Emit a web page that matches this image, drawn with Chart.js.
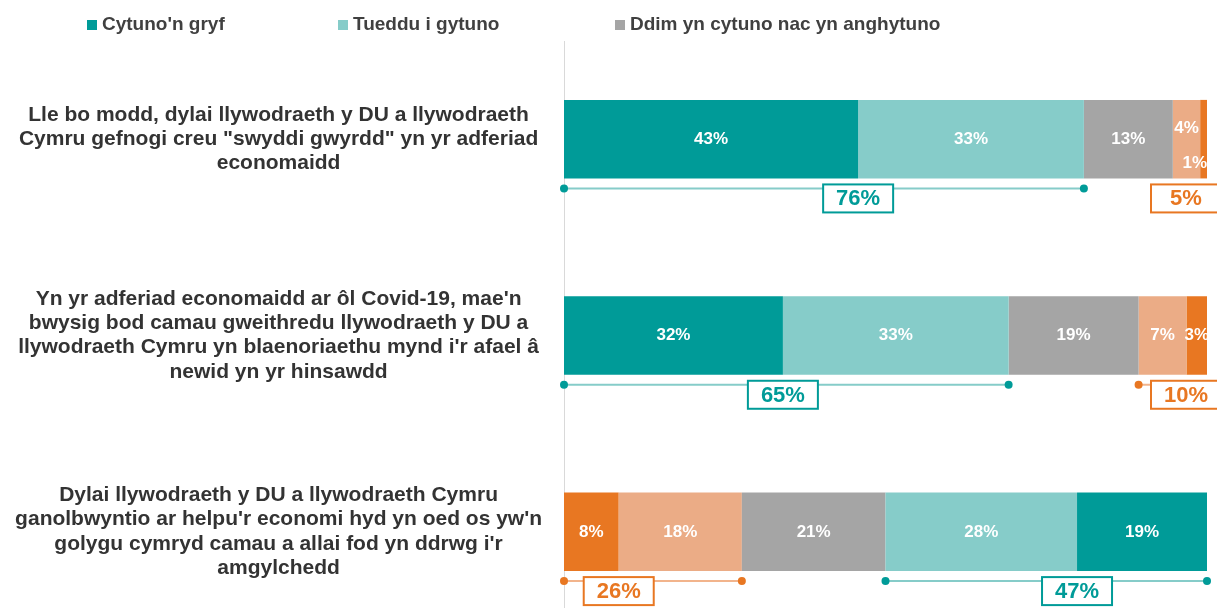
<!DOCTYPE html>
<html>
<head>
<meta charset="utf-8">
<script src="https://cdn.jsdelivr.net/npm/chart.js@4.4.1/dist/chart.umd.min.js"></script>
<style>
  html, body { margin: 0; padding: 0; background: #fff; overflow: hidden; }
  #wrap { position: relative; width: 1217px; height: 630px; }
</style>
</head>
<body>
<div id="wrap"><canvas id="myChart"></canvas></div>
<script>
// Data
const categories = [
  ['Lle bo modd, dylai llywodraeth y DU a llywodraeth', 'Cymru gefnogi creu "swyddi gwyrdd" yn yr adferiad', 'economaidd'],
  ["Yn yr adferiad economaidd ar ôl Covid-19, mae'n", 'bwysig bod camau gweithredu llywodraeth y DU a', "llywodraeth Cymru yn blaenoriaethu mynd i'r afael â", 'newid yn yr hinsawdd'],
  ['Dylai llywodraeth y DU a llywodraeth Cymru', "ganolbwyntio ar helpu'r economi hyd yn oed os yw'n", "golygu cymryd camau a allai fod yn ddrwg i'r", 'amgylchedd']
];
const seriesNames = ["Cytuno'n gryf", 'Tueddu i gytuno', 'Ddim yn cytuno nac yn anghytuno', 'Tueddu i anghytuno', "Anghytuno'n gryf"];
const cytunoGryf = [43, 32, 19];
const tueddCytuno = [33, 33, 28];
const ddim = [13, 19, 21];
const tueddAnghytuno = [4, 7, 18];
const anghytunoGryf = [1, 3, 8];
const reversedRow = [false, false, true]; // last statement is shown disagree-first

const colours = ['#009B98', '#86CCC9', '#A5A5A5', '#EBAC86', '#E87722'];
const FONT = "'Liberation Sans', Arial, sans-serif";

const allSeries = [cytunoGryf, tueddCytuno, ddim, tueddAnghytuno, anghytunoGryf];
const total = categories.map((c, r) => allSeries.reduce((a, s) => a + s[r], 0));
const X_MAX = Math.max(...total);

// floating bars so each row can have its own order
const datasets = allSeries.map((vals, s) => ({
  label: seriesNames[s],
  backgroundColor: colours[s],
  borderWidth: 0,
  grouped: false,
  barPercentage: 0.4,
  categoryPercentage: 1,
  data: vals.map((v, r) => {
    const order = reversedRow[r] ? [4, 3, 2, 1, 0] : [0, 1, 2, 3, 4];
    let start = 0;
    for (const k of order) { if (k === s) break; start += allSeries[k][r]; }
    return [start, start + v];
  })
}));

// legend (only the first three keys are shown)
const legendPlugin = {
  id: 'customLegend',
  afterDraw(chart) {
    const ctx = chart.ctx;
    const xs = [87, 338, 615];
    ctx.save();
    ctx.font = 'bold 19px ' + FONT;
    ctx.textBaseline = 'middle';
    ctx.textAlign = 'left';
    for (let i = 0; i < 3; i++) {
      ctx.fillStyle = colours[i];
      ctx.fillRect(xs[i], 20, 10, 10);
      ctx.fillStyle = '#404040';
      ctx.fillText(seriesNames[i], xs[i] + 15, 25);
    }
    ctx.restore();
  }
};

// percentage labels inside the segments
const labelPlugin = {
  id: 'segLabels',
  afterDatasetsDraw(chart) {
    const ctx = chart.ctx;
    ctx.save();
    ctx.font = 'bold 17px ' + FONT;
    ctx.fillStyle = '#fff';
    ctx.textBaseline = 'middle';
    categories.forEach((c, r) => {
      const segs = datasets.map((d, s) => ({ el: chart.getDatasetMeta(s).data[r], v: allSeries[s][r] }))
        .sort((a, b) => Math.min(a.el.x, a.el.base) - Math.min(b.el.x, b.el.base));
      segs.forEach((sg, i) => {
        const el = sg.el;
        const w = Math.abs(el.x - el.base);
        const txt = sg.v + '%';
        let cx = (el.x + el.base) / 2, cy = el.y;
        const next = segs[i + 1];
        if (w < 10) {
          const tw = ctx.measureText(txt).width;
          cx = Math.min(cx, Math.max(el.x, el.base) - tw / 2);
          cy = el.y + 24;
        } else if (next && Math.abs(next.el.x - next.el.base) < 10) {
          cy = el.y - 11;
        }
        ctx.textAlign = 'center';
        ctx.fillText(txt, cx, cy);
      });
    });
    ctx.restore();
  }
};

// agree / disagree brackets under each bar
const bracketPlugin = {
  id: 'brackets',
  afterDatasetsDraw(chart) {
    const ctx = chart.ctx;
    const groups = [
      { sets: [0, 1], line: '#86CCC9', main: '#009B98' },
      { sets: [4, 3], line: '#F2B48C', main: '#E87722' }
    ];
    ctx.save();
    categories.forEach((c, r) => {
      groups.forEach(g => {
        const els = g.sets.map(s => chart.getDatasetMeta(s).data[r]);
        const sum = g.sets.reduce((a, s) => a + allSeries[s][r], 0);
        const x0 = Math.min(...els.map(e => Math.min(e.x, e.base)));
        const x1 = Math.max(...els.map(e => Math.max(e.x, e.base)));
        const lineY = els[0].y + els[0].height / 2 + 10;
        // line with end dots
        ctx.strokeStyle = g.line;
        ctx.lineWidth = 2;
        ctx.beginPath();
        ctx.moveTo(x0, lineY);
        ctx.lineTo(x1, lineY);
        ctx.stroke();
        ctx.fillStyle = g.main;
        [x0, x1].forEach(px => { ctx.beginPath(); ctx.arc(px, lineY, 4, 0, Math.PI * 2); ctx.fill(); });
        // box sits at the boundary between the strong and tending parts
        const strong = els[0];
        const boundary = Math.min(strong.x, strong.base) === x0 ? Math.max(strong.x, strong.base) : Math.min(strong.x, strong.base);
        const bw = 70, bh = 28;
        const bx = Math.min(boundary, chart.width + 4 - bw / 2);
        ctx.fillStyle = '#fff';
        ctx.fillRect(bx - bw / 2, lineY - 4, bw, bh);
        ctx.strokeStyle = g.main;
        ctx.lineWidth = 2;
        ctx.strokeRect(bx - bw / 2, lineY - 4, bw, bh);
        ctx.fillStyle = g.main;
        ctx.font = 'bold 22px ' + FONT;
        ctx.textAlign = 'center';
        ctx.textBaseline = 'middle';
        ctx.fillText(sum + '%', bx, lineY - 4 + bh / 2 + 1);
      });
    });
    ctx.restore();
  }
};

const ctx = document.getElementById('myChart');

new Chart(ctx, {
  type: 'bar',
  data: { labels: categories, datasets: datasets },
  options: {
    indexAxis: 'y',
    responsive: true,
    maintainAspectRatio: false,
    animation: false,
    layout: { padding: { top: 41, right: 10, bottom: 0, left: 0 } },
    scales: {
      x: { min: 0, max: X_MAX, display: false },
      y: {
        grid: { display: false },
        border: { color: '#D9D9D9', width: 1 },
        afterFit(scale) {
          scale.width = 564;
          scale.paddingTop = 0;
          scale.paddingBottom = 0;
        },
        ticks: {
          crossAlign: 'center',
          padding: 14,
          color: '#333333',
          font: { size: 21, weight: 'bold', family: FONT, lineHeight: 1.16 }
        }
      }
    },
    plugins: {
      legend: { display: false },
      tooltip: { enabled: false }
    }
  },
  plugins: [legendPlugin, labelPlugin, bracketPlugin]
});
</script>
</body>
</html>
